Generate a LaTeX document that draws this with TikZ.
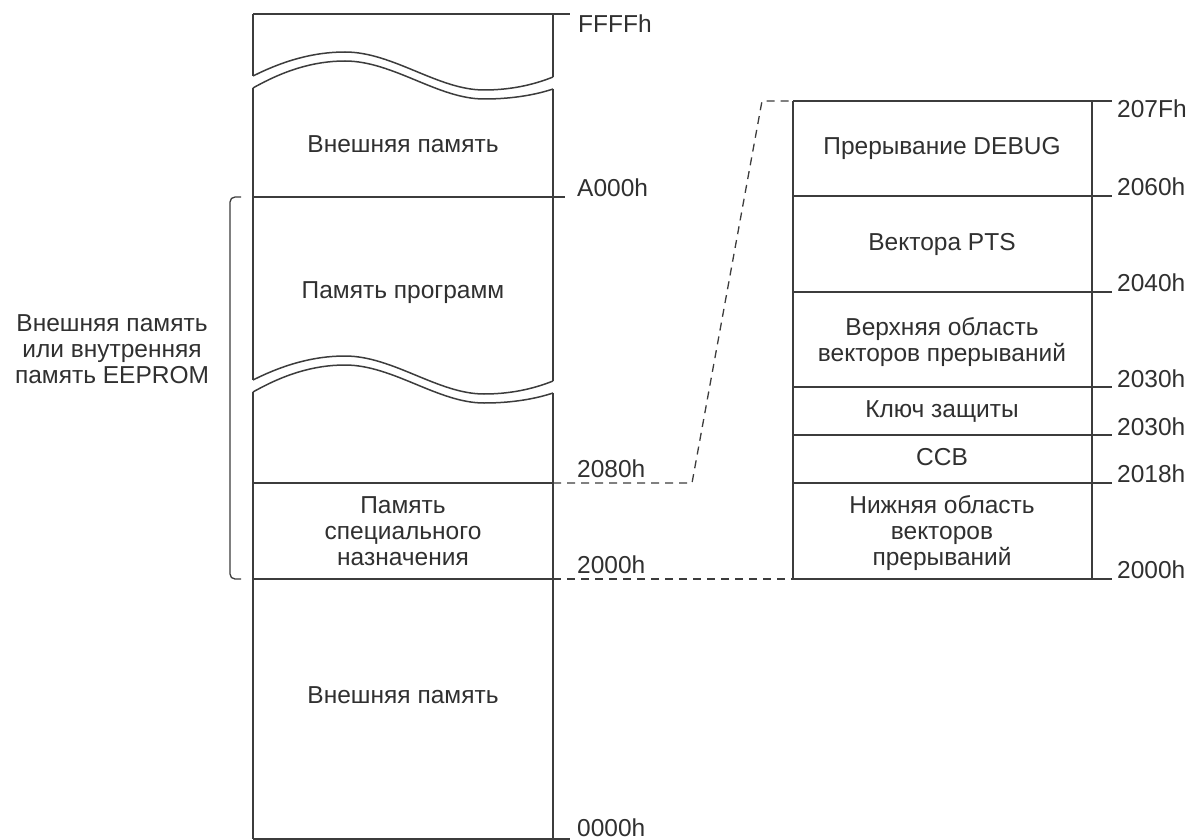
\documentclass[tikz,border=0pt]{standalone}
\usepackage{fontspec}
\setmainfont{Liberation Sans}
\definecolor{linecol}{HTML}{3C3C3C}
\definecolor{txtcol}{HTML}{303030}
\begin{document}
\begin{tikzpicture}[x=1pt,y=-1pt,
  memline/.style={draw=linecol, line width=1.5pt},
  linkline/.style={draw=linecol, line width=1.3pt, dash pattern=on 8pt off 6pt},
  memtext/.style={text=txtcol, font=\fontsize{24.5}{26}\selectfont, inner sep=0pt, align=center},
  addr/.style={text=txtcol, font=\fontsize{24.5}{26}\selectfont, inner sep=0pt, anchor=base west},
  wavebreak/.pic={
    % upper edge of the break
    \draw[memline] (0,0) .. controls (30,-15) and (60,-24) .. (92,-24)
      .. controls (140,-24) and (185,14) .. (231,14)
      .. controls (262,14) and (285,7) .. (300,1);
    % lower edge of the break
    \draw[memline] (0,12) .. controls (30,-5) and (60,-15) .. (92,-15)
      .. controls (140,-15) and (185,23) .. (231,23)
      .. controls (262,23) and (285,18) .. (300,13);
  }]
\useasboundingbox (0,0) rectangle (1202,840);

% ---------- full address space ----------
\pic at (253,76) {wavebreak};
\pic at (253,380) {wavebreak};
\draw[memline] (253,14) -- (253,76) (553,14) -- (553,77);
\draw[memline] (253,88) -- (253,380) (553,89) -- (553,381);
\draw[memline] (253,392) -- (253,839) (553,393) -- (553,839);
\draw[memline] (253,14) -- (570,14);
\draw[memline] (253,197) -- (565,197);
\draw[memline] (253,483) -- (553,483);
\draw[memline] (253,579) -- (553,579);
\draw[memline] (253,839) -- (570,839);

\node[memtext, anchor=base] (ext1) at (403,153) {Внешняя память};
\node[memtext, anchor=base] (prog) at (403,298) {Память программ};
\node[memtext] (spec) at (403,531.4) {Память\\специального\\назначения};
\node[memtext, anchor=base] (ext2) at (403,703) {Внешняя память};

\node[addr] (aFFFF) at (578,33) {FFFFh};
\node[addr] (aA000) at (577,196) {A000h};
\node[addr] (a2080) at (577,477) {2080h};
\node[addr] (a2000) at (577,573) {2000h};
\node[addr] (a0000) at (577,836.5) {0000h};

% bracket over the program / special region
\draw[memline, line width=1.3pt, rounded corners=5pt] (241,197) -- (230,197) -- (230,579) -- (241,579);
\node[memtext] (eeprom) at (112,349.4) {Внешняя память\\или внутренняя\\память EEPROM};

% ---------- expanded special-purpose area ----------
\draw[memline] (793,101) -- (793,579) (1092,101) -- (1092,579);
\foreach \yy in {101,196,292,387,435,483,579}
  \draw[memline] (793,\yy) -- (1112,\yy);

\node[memtext, anchor=base] (dbg) at (942,155) {Прерывание DEBUG};
\node[memtext, anchor=base] (pts) at (942,250) {Вектора PTS};
\node[memtext] (hiv) at (942,342.4) {Верхняя область\\векторов прерываний};
\node[memtext, anchor=base] (key) at (942,417) {Ключ защиты};
\node[memtext, anchor=base] (ccb) at (942,465) {CCB};
\node[memtext] (lov) at (942,533.4) {Нижняя область\\векторов\\прерываний};

\node[addr] (b207F) at (1117,118) {207Fh};
\node[addr] (b2060) at (1117,195) {2060h};
\node[addr] (b2040) at (1117,291) {2040h};
\node[addr] (b2030) at (1117,387) {2030h};
\node[addr] (b2030k) at (1117,435) {2030h};
\node[addr] (b2018) at (1117,482) {2018h};
\node[addr] (b2000) at (1117,578) {2000h};

% ---------- zoom connectors ----------
\coordinate (l2080) at (553,483);
\coordinate (l2000) at (553,579);
\coordinate (kneeA) at (692,483);
\coordinate (kneeB) at (762,101);
\coordinate (r207F) at (793,101);
\coordinate (r2000) at (793,579);
\draw[linkline] (l2080) -- (kneeA) -- (kneeB) -- (r207F);
\draw[linkline] (l2000) -- (r2000);
\end{tikzpicture}
\end{document}
